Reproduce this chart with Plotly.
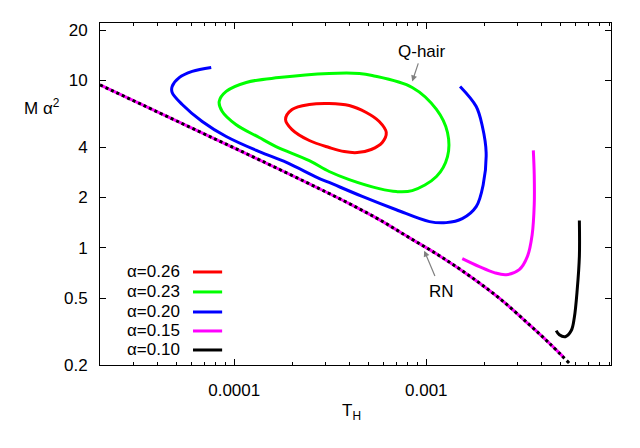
import math
import plotly.graph_objects as go

# RN branch (shared by all alpha), T_H vs M alpha^2
rn_t = [2.0e-5, 6.58e-5, 1.35e-4, 2.77e-4, 3.97e-4, 5.69e-4, 8.155e-4, 1.17e-3,
        1.675e-3, 2.40e-3, 3.44e-3, 4.37e-3, 5.56e-3]
rn_m = [9.4, 4.95, 3.36, 2.26, 1.840, 1.476, 1.152, 0.899,
        0.683, 0.501, 0.348, 0.270, 0.2048]

# alpha = 0.26 (closed loop)
a26_t = [1.85e-4, 2.00e-4, 2.46e-4, 3.12e-4, 3.97e-4, 4.87e-4, 5.69e-4, 6.19e-4,
         5.90e-4, 5.17e-4, 4.37e-4, 3.74e-4, 3.12e-4, 2.46e-4, 2.00e-4, 1.85e-4]
a26_m = [5.85, 6.71, 7.19, 7.29, 7.09, 6.44, 5.69, 4.89,
         4.26, 3.87, 3.71, 3.76, 3.98, 4.38, 5.09, 5.85]

# alpha = 0.23 (closed loop)
a23_t = [8.35e-5, 9.08e-5, 1.155e-4, 1.71e-4, 3.12e-4, 4.48e-4, 5.23e-4, 8.45e-4,
         1.13e-3, 1.29e-3, 1.29e-3, 1.13e-3, 8.45e-4, 6.98e-4, 5.69e-4, 3.97e-4,
         3.12e-4, 2.46e-4, 1.65e-4, 1.35e-4, 1.02e-4, 8.66e-5, 8.35e-5]
a23_m = [7.49, 8.60, 9.73, 10.4, 11.0, 11.0, 10.7, 9.08,
         6.71, 4.89, 3.51, 2.67, 2.20, 2.17, 2.26, 2.56,
         2.86, 3.32, 4.03, 4.56, 5.46, 6.53, 7.49]

# alpha = 0.20
a20_t = [7.59e-5, 6.04e-5, 5.17e-5, 4.75e-5, 4.75e-5, 5.36e-5, 6.81e-5, 9.08e-5,
         1.35e-4, 1.87e-4, 2.71e-4, 3.12e-4, 4.64e-4, 6.98e-4, 1.04e-3, 1.27e-3,
         1.54e-3, 1.82e-3, 1.98e-3, 2.05e-3, 1.96e-3, 1.82e-3, 1.50e-3]
a20_m = [11.96, 11.32, 10.4, 9.21, 8.48, 7.19, 5.69, 4.63,
         3.76, 3.24, 2.63, 2.46, 2.03, 1.69, 1.436, 1.416,
         1.497, 1.765, 2.39, 3.71, 5.31, 6.99, 9.21]

# alpha = 0.15
a15_t = [1.54e-3, 1.89e-3, 2.26e-3, 2.61e-3, 3.05e-3, 3.36e-3, 3.56e-3, 3.65e-3, 3.65e-3, 3.61e-3]
a15_m = [0.863, 0.773, 0.712, 0.692, 0.742, 0.887, 1.20, 1.815, 2.74, 3.82]

# alpha = 0.10
a10_t = [6.27e-3, 6.27e-3, 6.11e-3, 5.90e-3, 5.69e-3, 5.30e-3, 4.93e-3, 4.75e-3]
a10_m = [1.456, 0.887, 0.563, 0.383, 0.321, 0.295, 0.303, 0.321]

labels = ["α=0.26", "α=0.23", "α=0.20", "α=0.15", "α=0.10"]
colors = ["#ff0000", "#00ff00", "#0000ff", "#ff00ff", "#000000"]

x_ticks = [1e-4, 1e-3]
x_ticktext = ["0.0001", "0.001"]
x_minor = [k * 10.0 ** e for e in (-5, -4, -3) for k in range(2, 10)]
y_ticks = [0.2, 0.5, 1, 2, 4, 10, 20]
y_ticktext = ["0.2", "0.5", "1", "2", "4", "10", "20"]

FONT = "Liberation Sans"
FS = 17
lg = math.log10

fig = go.Figure()

# RN line: magenta under black dots
fig.add_trace(go.Scatter(x=rn_t[:-1] + [5.2e-3], y=rn_m[:-1] + [0.222], mode="lines",
                         line=dict(color="#ff00ff", width=3, shape="spline")))
fig.add_trace(go.Scatter(x=rn_t, y=rn_m, mode="lines",
                         line=dict(color="black", width=3, dash="3px,3px", shape="spline")))

for t, m, c in [(a26_t, a26_m, colors[0]), (a23_t, a23_m, colors[1]),
                (a20_t, a20_m, colors[2]), (a15_t, a15_m, colors[3]),
                (a10_t, a10_m, colors[4])]:
    fig.add_trace(go.Scatter(x=t, y=m, mode="lines",
                             line=dict(color=c, width=3, shape="spline", smoothing=1)))

# gnuplot-like key: text then line sample
key_y = [0.272, 0.2136, 0.155, 0.0995, 0.0439]
for lab, c, ky in zip(labels, colors, key_y):
    fig.add_annotation(x=0.1605, y=ky, xref="paper", yref="paper", text=lab,
                       showarrow=False, xanchor="right", yanchor="middle",
                       font=dict(family=FONT, size=FS, color="black"))
    fig.add_shape(type="line", xref="paper", yref="paper", x0=0.182, x1=0.239,
                  y0=ky, y1=ky, line=dict(color=c, width=3))

# labels with arrows (annotation coords on log axes are log10 values)
fig.add_annotation(x=lg(8.45e-4), y=lg(9.86), text="Q-hair", showarrow=True,
                   axref="x", ayref="y", ax=lg(9.53e-4), ay=lg(14.9),
                   arrowhead=2, arrowsize=1, arrowwidth=1.2, arrowcolor="#808080",
                   startstandoff=1, font=dict(family=FONT, size=FS, color="black"))
fig.add_annotation(x=lg(9.76e-4), y=lg(0.963), text="RN", showarrow=True,
                   axref="x", ayref="y", ax=lg(1.20e-3), ay=lg(0.548),
                   arrowhead=2, arrowsize=1, arrowwidth=1.2, arrowcolor="#808080",
                   startstandoff=5, font=dict(family=FONT, size=FS, color="black"))

# axis titles
fig.add_annotation(x=-0.114, y=0.753, xref="paper", yref="paper", text="M α<sup>2</sup>",
                   showarrow=False, xanchor="center", yanchor="middle",
                   font=dict(family=FONT, size=FS, color="black"))
fig.add_annotation(x=0.493, y=-0.138, xref="paper", yref="paper", text="T<sub>H</sub>",
                   showarrow=False, xanchor="center", yanchor="middle",
                   font=dict(family=FONT, size=FS, color="black"))

fig.update_xaxes(type="log", range=[-4.699, -2.038], tickvals=x_ticks, ticktext=x_ticktext,
                 ticks="inside", ticklen=6, tickcolor="black", mirror="ticks",
                 showline=True, linecolor="black", linewidth=1, showgrid=False, zeroline=False,
                 ticklabelstandoff=10,
                 minor=dict(tickvals=x_minor, ticks="inside", ticklen=3, tickcolor="black"),
                 tickfont=dict(family=FONT, size=FS, color="black"))
fig.update_yaxes(type="log", range=[-0.699, 1.343], tickvals=y_ticks, ticktext=y_ticktext,
                 ticks="inside", ticklen=6, tickcolor="black", mirror="ticks",
                 showline=True, linecolor="black", linewidth=1, showgrid=False, zeroline=False,
                 ticklabelstandoff=8,
                 tickfont=dict(family=FONT, size=FS, color="black"))

# page body adds an 8px margin, so the figure is 16px smaller than the window
fig.update_layout(width=624, height=432, autosize=False, showlegend=False,
                  margin=dict(l=92, r=21, t=15, b=75),
                  paper_bgcolor="white", plot_bgcolor="white",
                  font=dict(family=FONT, size=FS, color="black"))

fig.write_html("out.html")
